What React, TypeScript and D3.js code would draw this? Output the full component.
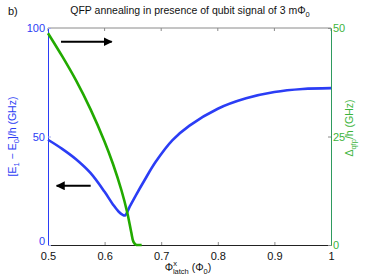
import React, { useEffect, useRef } from 'react';
import * as d3 from 'd3';

// energy gap (left axis, GHz)
const gapX = [0.5, 0.525, 0.55, 0.575, 0.6, 0.615, 0.625, 0.632, 0.636, 0.645, 0.655, 0.67, 0.69, 0.72, 0.75, 0.8, 0.85, 0.9, 0.95, 1.0];
const gapY = [48.5, 44.3, 39.4, 33.2, 24.5, 18.6, 15.3, 13.9, 13.6, 18.0, 22.8, 29.6, 38.2, 48.3, 55.0, 62.8, 67.6, 70.5, 71.9, 72.3];

// qfp tunnelling (right axis, GHz)
const qfpX = [0.5, 0.525, 0.55, 0.575, 0.6, 0.615, 0.63, 0.64, 0.647, 0.651, 0.655, 0.66, 0.6655];
const qfpY = [48.8, 43.5, 37.8, 31.3, 23.8, 18.6, 12.5, 7.5, 3.0, 0.7, 0.1, 0, 0];

const xTicks = [0.5, 0.6, 0.7, 0.8, 0.9, 1];
const leftTicks = [0, 50, 100];
const rightTicks = [0, 25, 50];

const BLUE = '#2b3df5';
const GREEN = '#22aa00';
const GREEN_TXT = '#3cb43c';
const FONT = 'Liberation Sans, Arial, sans-serif';

const App = () => {
  const svgRef = useRef(null);

  useEffect(() => {
    const margin = { top: 28, right: 34, bottom: 32, left: 48 };
    const W = 365, H = 277;
    const width = W - margin.left - margin.right;
    const height = H - margin.top - margin.bottom;

    const root = d3.select(svgRef.current);
    root.selectAll('*').remove();
    const svg = root.append('g').attr('transform', `translate(${margin.left},${margin.top})`);

    const x = d3.scaleLinear().domain([0.5, 1]).range([0, width]);
    const yL = d3.scaleLinear().domain([0, 100]).range([height, 0]);
    const yR = d3.scaleLinear().domain([0, 50]).range([height, 0]);

    // top frame line with inward ticks
    svg.append('line').attr('x1', 0).attr('x2', width).attr('y1', 0).attr('y2', 0)
      .attr('stroke', '#8a8a8a').attr('stroke-width', 1);
    xTicks.forEach(t => {
      svg.append('line').attr('x1', x(t)).attr('x2', x(t)).attr('y1', 0).attr('y2', 3)
        .attr('stroke', '#8a8a8a');
    });

    // bottom axis
    const xAxis = svg.append('g').attr('transform', `translate(0,${height})`)
      .call(d3.axisBottom(x).tickValues(xTicks).tickSizeInner(-3).tickSizeOuter(0).tickPadding(7)
        .tickFormat(d => (d === 1 ? '1' : d3.format('.1f')(d))));
    xAxis.select('.domain').attr('stroke', '#222');
    xAxis.selectAll('line').attr('stroke', '#8a8a8a');
    xAxis.selectAll('text').attr('fill', '#111').style('font-family', FONT).style('font-size', '11px');

    // left axis
    const lAxis = svg.append('g')
      .call(d3.axisLeft(yL).tickValues(leftTicks).tickSizeInner(-3).tickSizeOuter(0).tickPadding(3));
    lAxis.select('.domain').attr('stroke', BLUE);
    lAxis.selectAll('line').attr('stroke', '#a0a8f0');
    lAxis.selectAll('text').attr('fill', BLUE).style('font-family', FONT).style('font-size', '11px');
    lAxis.selectAll('.tick').filter(d => d === 0).select('text').attr('dy', '-0.05em');

    // right axis
    const rAxis = svg.append('g').attr('transform', `translate(${width},0)`)
      .call(d3.axisRight(yR).tickValues(rightTicks).tickSizeInner(-3).tickSizeOuter(0).tickPadding(2));
    rAxis.select('.domain').attr('stroke', '#2e9a5e');
    rAxis.selectAll('line').attr('stroke', '#8a8a8a');
    rAxis.selectAll('text').attr('fill', GREEN_TXT).style('font-family', FONT).style('font-size', '11px');

    // curves
    const gapLine = d3.line<number>()
      .x((d, i) => x(gapX[i]))
      .y(d => yL(d))
      .curve(d3.curveCatmullRom.alpha(0.5));
    svg.append('path').datum(gapY).attr('d', gapLine)
      .attr('fill', 'none').attr('stroke', BLUE).attr('stroke-width', 2.6);

    const qfpLine = d3.line<number>()
      .x((d, i) => x(qfpX[i]))
      .y(d => yR(d))
      .curve(d3.curveCatmullRom.alpha(0.5));
    svg.append('path').datum(qfpY).attr('d', qfpLine)
      .attr('fill', 'none').attr('stroke', GREEN).attr('stroke-width', 2.6);

    // arrows
    const defs = root.append('defs');
    defs.append('marker').attr('id', 'ah').attr('viewBox', '0 0 10 10')
      .attr('refX', 9).attr('refY', 5).attr('markerWidth', 4.5).attr('markerHeight', 4.5)
      .attr('orient', 'auto-start-reverse')
      .append('path').attr('d', 'M0,0 L10,5 L0,10 z').attr('fill', '#000');

    svg.append('line').attr('x1', x(0.523)).attr('x2', x(0.6125))
      .attr('y1', yL(93.7)).attr('y2', yL(93.7))
      .attr('stroke', '#000').attr('stroke-width', 2).attr('marker-end', 'url(#ah)');
    svg.append('line').attr('x1', x(0.5754)).attr('x2', x(0.5153))
      .attr('y1', yL(27.3)).attr('y2', yL(27.3))
      .attr('stroke', '#000').attr('stroke-width', 2).attr('marker-end', 'url(#ah)');

    // title and panel label
    root.append('text').attr('x', 8).attr('y', 15).style('font-family', FONT).style('font-size', '11px')
      .attr('fill', '#111').text('b)');
    const title = root.append('text').attr('x', 190).attr('y', 14).attr('text-anchor', 'middle')
      .style('font-family', FONT).style('font-size', '10.5px').attr('fill', '#111');
    title.append('tspan').text('QFP annealing in presence of qubit signal of 3 mΦ');
    title.append('tspan').attr('dy', 3).style('font-size', '7.5px').text('0');

    // x label
    const xl = root.append('text').attr('x', 188).attr('y', 271).attr('text-anchor', 'middle')
      .style('font-family', FONT).style('font-size', '10.5px').attr('fill', '#111');
    xl.append('tspan').text('Φ');
    xl.append('tspan').attr('dy', -5).style('font-size', '7.5px').text('x');
    xl.append('tspan').attr('dx', -4).attr('dy', 8).style('font-size', '7.5px').text('latch');
    xl.append('tspan').attr('dy', -3).text(' (Φ');
    xl.append('tspan').attr('dy', 3).style('font-size', '7.5px').text('0');
    xl.append('tspan').attr('dy', -3).text(')');

    // left y label
    const yl = root.append('text')
      .attr('transform', `translate(16,${margin.top + height / 2}) rotate(-90)`)
      .attr('text-anchor', 'middle')
      .style('font-family', FONT).style('font-size', '10.5px').attr('fill', BLUE);
    yl.append('tspan').text('[E');
    yl.append('tspan').attr('dy', 3).style('font-size', '7.5px').text('1');
    yl.append('tspan').attr('dy', -3).text(' − E');
    yl.append('tspan').attr('dy', 3).style('font-size', '7.5px').text('0');
    yl.append('tspan').attr('dy', -3).text(']/h (GHz)');

    // right y label
    const yr = root.append('text')
      .attr('transform', `translate(353,128) rotate(-90)`)
      .attr('text-anchor', 'middle')
      .style('font-family', FONT).style('font-size', '10.5px').attr('fill', GREEN_TXT);
    yr.append('tspan').text('Δ');
    yr.append('tspan').attr('dy', 3).style('font-size', '7.5px').text('qfp');
    yr.append('tspan').attr('dy', -3).text('/h (GHz)');
  }, []);

  return (
    <svg ref={svgRef} width={365} height={277}
      style={{ position: 'absolute', left: 0, top: 0, background: '#fff' }}></svg>
  );
};

export default App;
